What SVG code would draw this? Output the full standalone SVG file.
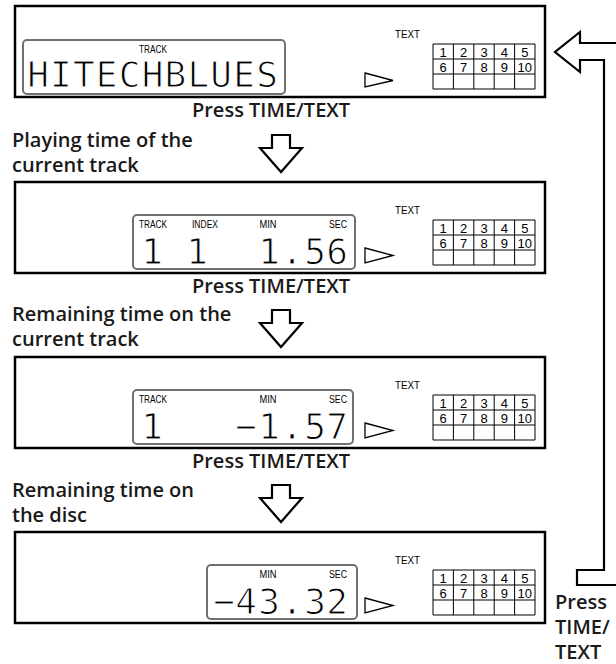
<svg xmlns="http://www.w3.org/2000/svg" width="616" height="664" viewBox="0 0 616 664">
<style>
.panel{fill:#fff;stroke:#000;stroke-width:2.5}
.lcd{fill:#fff;stroke:#707070;stroke-width:2}
.lbl{font-family:"Liberation Sans",Arial,sans-serif;font-size:10px;fill:#000}
.seg{font-family:"DejaVu Sans Mono",monospace;font-size:36px;fill:#000;stroke:#fff;stroke-width:1.1;text-anchor:middle}
.cap{font-family:"Open Sans",sans-serif;font-weight:600;font-size:20px;fill:#1a1a1a}
.grid{fill:none;stroke:#000;stroke-width:1}
.num{font-family:"Liberation Sans",Arial,sans-serif;font-size:13px;text-anchor:middle;fill:#000}
.play{fill:#fff;stroke:#000;stroke-width:1.3}
.arrow{fill:#fff;stroke:#000;stroke-width:2.2;stroke-linejoin:miter}
</style>

<g id="display-1" transform="translate(0,6)">
<rect class="panel" x="15" y="0" width="530" height="91"/>
<rect class="lcd" x="23" y="34" width="262" height="54" rx="4"/>
<text class="lbl" x="153" y="47" text-anchor="middle" textLength="28" lengthAdjust="spacingAndGlyphs">TRACK</text>
<text class="seg" x="38 60.9 83.8 106.7 129.6 152.5 175.4 198.3 221.2 244.1 267" y="81">HITECHBLUES</text>
<polygon class="play" points="365,67 393,74.5 365,81"/>
<text class="lbl" x="395" y="32" textLength="25" lengthAdjust="spacingAndGlyphs">TEXT</text>
<path class="grid" d="M433,38H535V83H433Z M433,53H535 M433,68H535 M453.4,38V83 M473.8,38V83 M494.2,38V83 M514.6,38V83"/>
<text class="num" x="443.2 463.6 484 504.4 524.8" y="51">12345</text>
<text class="num" y="66"><tspan x="443.2">6</tspan><tspan x="463.6">7</tspan><tspan x="484">8</tspan><tspan x="504.4">9</tspan><tspan x="524.8">10</tspan></text>
</g>

<g id="display-2" transform="translate(0,182)">
<rect class="panel" x="15" y="0" width="530" height="91"/>
<rect class="lcd" x="133" y="33" width="222" height="54" rx="4"/>
<text class="lbl" x="139" y="46" textLength="28" lengthAdjust="spacingAndGlyphs">TRACK</text>
<text class="lbl" x="192" y="46" textLength="26" lengthAdjust="spacingAndGlyphs">INDEX</text>
<text class="lbl" x="268" y="46" text-anchor="middle" textLength="17" lengthAdjust="spacingAndGlyphs">MIN</text>
<text class="lbl" x="347" y="46" text-anchor="end" textLength="18" lengthAdjust="spacingAndGlyphs">SEC</text>
<text class="seg" x="152 175 197 233 269 292 315 337" y="82">1 1 1.56</text>
<polygon class="play" points="365,66 393,73.5 365,81"/>
<text class="lbl" x="395" y="32" textLength="25" lengthAdjust="spacingAndGlyphs">TEXT</text>
<path class="grid" d="M433,38H535V83H433Z M433,53H535 M433,68H535 M453.4,38V83 M473.8,38V83 M494.2,38V83 M514.6,38V83"/>
<text class="num" x="443.2 463.6 484 504.4 524.8" y="51">12345</text>
<text class="num" y="66"><tspan x="443.2">6</tspan><tspan x="463.6">7</tspan><tspan x="484">8</tspan><tspan x="504.4">9</tspan><tspan x="524.8">10</tspan></text>
</g>

<g id="display-3" transform="translate(0,357)">
<rect class="panel" x="15" y="0" width="530" height="91"/>
<rect class="lcd" x="133" y="33" width="220" height="54" rx="4"/>
<text class="lbl" x="139" y="46" textLength="28" lengthAdjust="spacingAndGlyphs">TRACK</text>
<text class="lbl" x="268" y="46" text-anchor="middle" textLength="17" lengthAdjust="spacingAndGlyphs">MIN</text>
<text class="lbl" x="347" y="46" text-anchor="end" textLength="18" lengthAdjust="spacingAndGlyphs">SEC</text>
<text class="seg" x="152 200 246 269 292 315 337" y="82">1 −1.57</text>
<polygon class="play" points="365,66 393,73.5 365,81"/>
<text class="lbl" x="395" y="32" textLength="25" lengthAdjust="spacingAndGlyphs">TEXT</text>
<path class="grid" d="M433,38H535V83H433Z M433,53H535 M433,68H535 M453.4,38V83 M473.8,38V83 M494.2,38V83 M514.6,38V83"/>
<text class="num" x="443.2 463.6 484 504.4 524.8" y="51">12345</text>
<text class="num" y="66"><tspan x="443.2">6</tspan><tspan x="463.6">7</tspan><tspan x="484">8</tspan><tspan x="504.4">9</tspan><tspan x="524.8">10</tspan></text>
</g>

<g id="display-4" transform="translate(0,532)">
<rect class="panel" x="15" y="0" width="530" height="91"/>
<rect class="lcd" x="207" y="33" width="150" height="54" rx="4"/>
<text class="lbl" x="268" y="46" text-anchor="middle" textLength="17" lengthAdjust="spacingAndGlyphs">MIN</text>
<text class="lbl" x="347" y="46" text-anchor="end" textLength="18" lengthAdjust="spacingAndGlyphs">SEC</text>
<text class="seg" x="224 246 269 292 315 337" y="82">−43.32</text>
<polygon class="play" points="365,66 393,73.5 365,81"/>
<text class="lbl" x="395" y="32" textLength="25" lengthAdjust="spacingAndGlyphs">TEXT</text>
<path class="grid" d="M433,38H535V83H433Z M433,53H535 M433,68H535 M453.4,38V83 M473.8,38V83 M494.2,38V83 M514.6,38V83"/>
<text class="num" x="443.2 463.6 484 504.4 524.8" y="51">12345</text>
<text class="num" y="66"><tspan x="443.2">6</tspan><tspan x="463.6">7</tspan><tspan x="484">8</tspan><tspan x="504.4">9</tspan><tspan x="524.8">10</tspan></text>
</g>

<g id="labels">
<text class="cap" x="271" y="117" text-anchor="middle">Press TIME/TEXT</text>
<text class="cap" x="12" y="147">Playing time of the<tspan x="12" dy="25">current track</tspan></text>
<text class="cap" x="271" y="293" text-anchor="middle">Press TIME/TEXT</text>
<text class="cap" x="12" y="321">Remaining time on the<tspan x="12" dy="25">current track</tspan></text>
<text class="cap" x="271" y="468" text-anchor="middle">Press TIME/TEXT</text>
<text class="cap" x="12" y="497">Remaining time on<tspan x="12" dy="25">the disc</tspan></text>
<text class="cap" x="555" y="609">Press<tspan x="555" dy="25">TIME/</tspan><tspan x="555" dy="25">TEXT</tspan></text>
</g>

<g id="connectors">
<path class="arrow" d="M272,135H290V148H302L281,172L260,148H272Z"/>
<path class="arrow" d="M272,310H290V323H302L281,347L260,323H272Z"/>
<path class="arrow" d="M272,485H290V498H302L281,522L260,498H272Z"/>
<path class="arrow" d="M620,43H580V32L555,52L580,72V60H604V570H577V585H620"/>
</g>
</svg>
